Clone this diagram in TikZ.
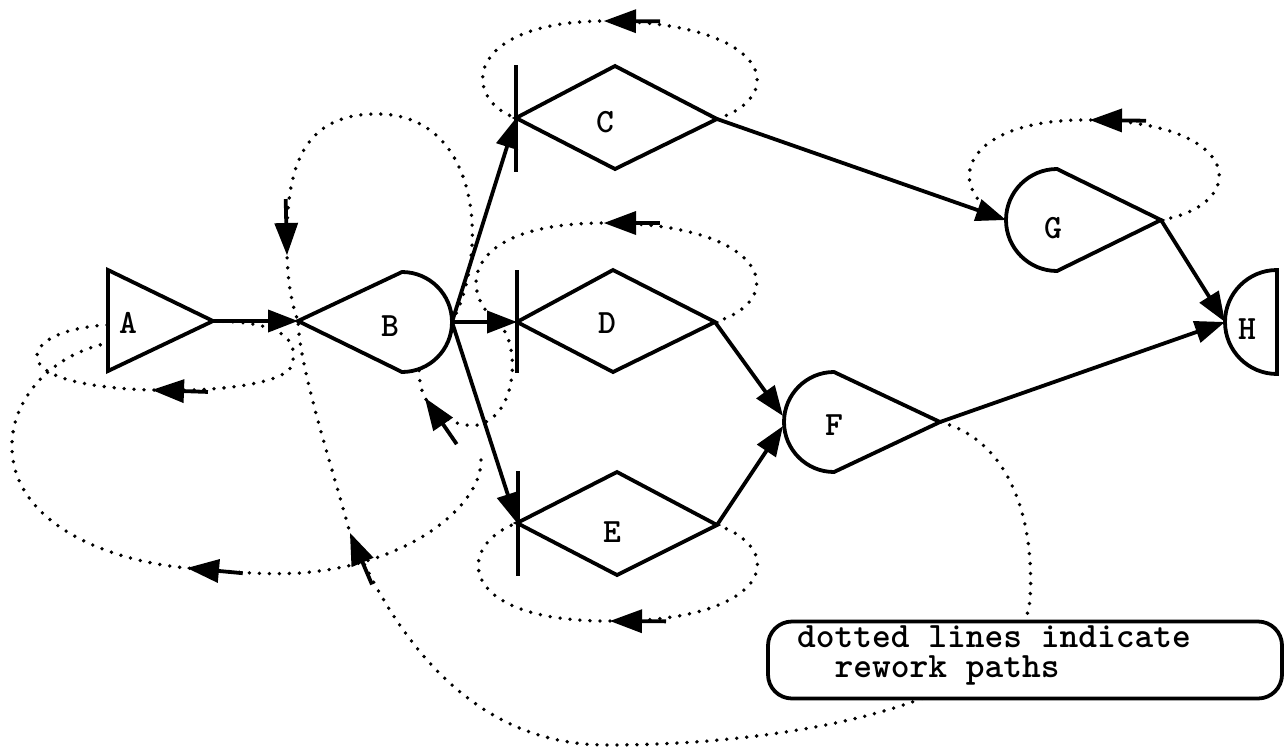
\documentclass[tikz,border=0pt]{standalone}
\usepackage{fontspec}
\usetikzlibrary{arrows.meta}
\tikzset{
  outline/.style={line width=3.8pt, line join=miter},
  barline/.style={line width=3.2pt},
  flow/.style={line width=3.8pt, -{Triangle[length=30pt,width=22pt]}},
  rework/.style={line width=3.8pt, line cap=round, dash pattern=on 0pt off 10pt},
  rwtip/.style={pos=1, sloped, allow upside down},
  rwarrow/.pic={\fill[solid] (0,0) -- (-32pt,12pt) -- (-32pt,-12pt) -- cycle;
                \draw[solid, line width=3.8pt, line cap=butt] (-30pt,0) -- (-56pt,0);},
  lbl/.style={font=\ttfamily\bfseries\fontsize{34}{34}\selectfont, inner sep=0pt},
  notebox/.style={draw, fill=white, line width=3.8pt, rounded corners=24pt,
                  minimum width=514pt, minimum height=77pt, inner sep=0pt},
  notetext/.style={font=\ttfamily\bfseries\fontsize{35.7}{30.5}\selectfont, inner sep=0pt},
}
\begin{document}
\begin{tikzpicture}[x=1pt,y=1pt]
\fill[white] (0,0) rectangle (1284,-750);
\useasboundingbox (0,0) rectangle (1284,-750);

% anchor points
\coordinate (Aout) at (213,-321);
\coordinate (Ain)  at (108,-325);
\coordinate (Ain2) at (108,-343);
\coordinate (Bin)  at (298,-321);
\coordinate (Bout) at (452,-322);
\coordinate (Bbot) at (419,-369);
\coordinate (Cin)  at (516,-118);
\coordinate (Cout) at (717,-119);
\coordinate (Din)  at (517,-322);
\coordinate (Dout) at (715,-322);
\coordinate (Ein)  at (517,-523);
\coordinate (Eout) at (717,-525);
\coordinate (FinD) at (783,-416);
\coordinate (FinE) at (783,-426);
\coordinate (Fout) at (940,-422);
\coordinate (Gin)  at (1006,-220);
\coordinate (Gout) at (1161,-220);
\coordinate (Hin)  at (1225,-322);
\coordinate (Eloop) at (481,-460);

% rework paths (dotted)
\draw[rework] (Cout) .. controls (790,-95) and (770,-22) .. (604,-21) pic[rwtip]{rwarrow}
   .. controls (462,-22) and (462,-100) .. (Cin);
\draw[rework] (Dout) .. controls (790,-300) and (770,-223) .. (604,-223) pic[rwtip]{rwarrow}
   .. controls (465,-223) and (455,-290) .. (500,-325)
   .. controls (520,-345) and (518,-415) .. (478,-425)
   .. controls (455,-428) and (436,-414) .. (425,-398) pic[rwtip]{rwarrow}
   .. controls (421,-390) and (419,-380) .. (Bbot);
\draw[rework] (Eout) .. controls (790,-550) and (770,-622) .. (610,-621) pic[rwtip]{rwarrow}
   .. controls (455,-622) and (455,-545) .. (Ein);
\draw[rework] (Gout) .. controls (1250,-205) and (1245,-122) .. (1090,-120) pic[rwtip]{rwarrow}
   .. controls (960,-118) and (940,-190) .. (Gin);
\draw[rework] (Bout) .. controls (490,-250) and (480,-114) .. (377,-114)
   .. controls (300,-114) and (285,-170) .. (287,-255) pic[rwtip]{rwarrow}
   .. controls (288,-285) and (292,-305) .. (Bin);
\draw[rework] (Aout) .. controls (275,-322) and (300,-335) .. (292,-365)
   .. controls (285,-385) and (210,-392) .. (152,-390) pic[rwtip]{rwarrow}
   .. controls (80,-388) and (35,-375) .. (37,-355)
   .. controls (40,-335) and (80,-326) .. (Ain);
\draw[rework] (Eloop) .. controls (482,-505) and (410,-565) .. (300,-573)
   .. controls (265,-575) and (230,-572) .. (187,-568) pic[rwtip]{rwarrow}
   .. controls (100,-560) and (15,-520) .. (12,-450)
   .. controls (10,-400) and (50,-355) .. (Ain2);
\draw[rework] (Fout) .. controls (1010,-440) and (1035,-520) .. (1030,-600)
   .. controls (1020,-700) and (800,-745) .. (607,-745)
   .. controls (480,-745) and (400,-650) .. (350,-533) pic[rwtip]{rwarrow}
   .. controls (330,-460) and (300,-370) .. (Bin);

% process shapes
\draw[outline] (108,-270) -- (Aout) -- (108,-371) -- cycle;
\draw[outline] (Bin) -- (402,-272) arc[start angle=90,end angle=-90,radius=50] -- cycle;
\draw[outline] (Cin) -- (615,-66) -- (Cout) -- (615,-169) -- cycle;
\draw[barline] (516,-65) -- (516,-172);
\draw[outline] (Din) -- (613,-270) -- (Dout) -- (613,-372) -- cycle;
\draw[barline] (517,-270) -- (517,-373);
\draw[outline] (Ein) -- (617,-472) -- (Eout) -- (617,-575) -- cycle;
\draw[barline] (518,-471) -- (518,-576);
\draw[outline] (Fout) -- (834,-372) arc[start angle=90,end angle=270,radius=50] -- cycle;
\draw[outline] (Gout) -- (1057,-169) arc[start angle=90,end angle=270,radius=51] -- cycle;
\draw[outline] (1277,-270) arc[start angle=90,end angle=270,radius=52] -- cycle;

% labels
\node[lbl] (labA) at (128,-323) {A};
\node[lbl] (labB) at (390,-326) {B};
\node[lbl] (labC) at (605,-122) {C};
\node[lbl] (labD) at (607,-323) {D};
\node[lbl] (labE) at (612,-532) {E};
\node[lbl] (labF) at (834,-425) {F};
\node[lbl] (labG) at (1053,-228) {G};
\node[lbl] (labH) at (1247,-329) {H};

% flow connectors
\draw[flow] (Aout) -- (Bin);
\draw[flow] (Bout) -- (Cin);
\draw[flow] (Bout) -- (Din);
\draw[flow] (Bout) -- (Ein);
\draw[flow] (Cout) -- (Gin);
\draw[flow] (Dout) -- (FinD);
\draw[flow] (Eout) -- (FinE);
\draw[flow] (Gout) -- (Hin);
\draw[flow] (Fout) -- (Hin);

% note
\node[notebox] (note) at (1025,-660) {};
\node[notetext, anchor=base west] (notetxt) at (797,-647)
  {\begin{tabular}[t]{@{}l@{}}dotted lines indicate\\\phantom{xx}rework paths\end{tabular}};
\end{tikzpicture}
\end{document}
